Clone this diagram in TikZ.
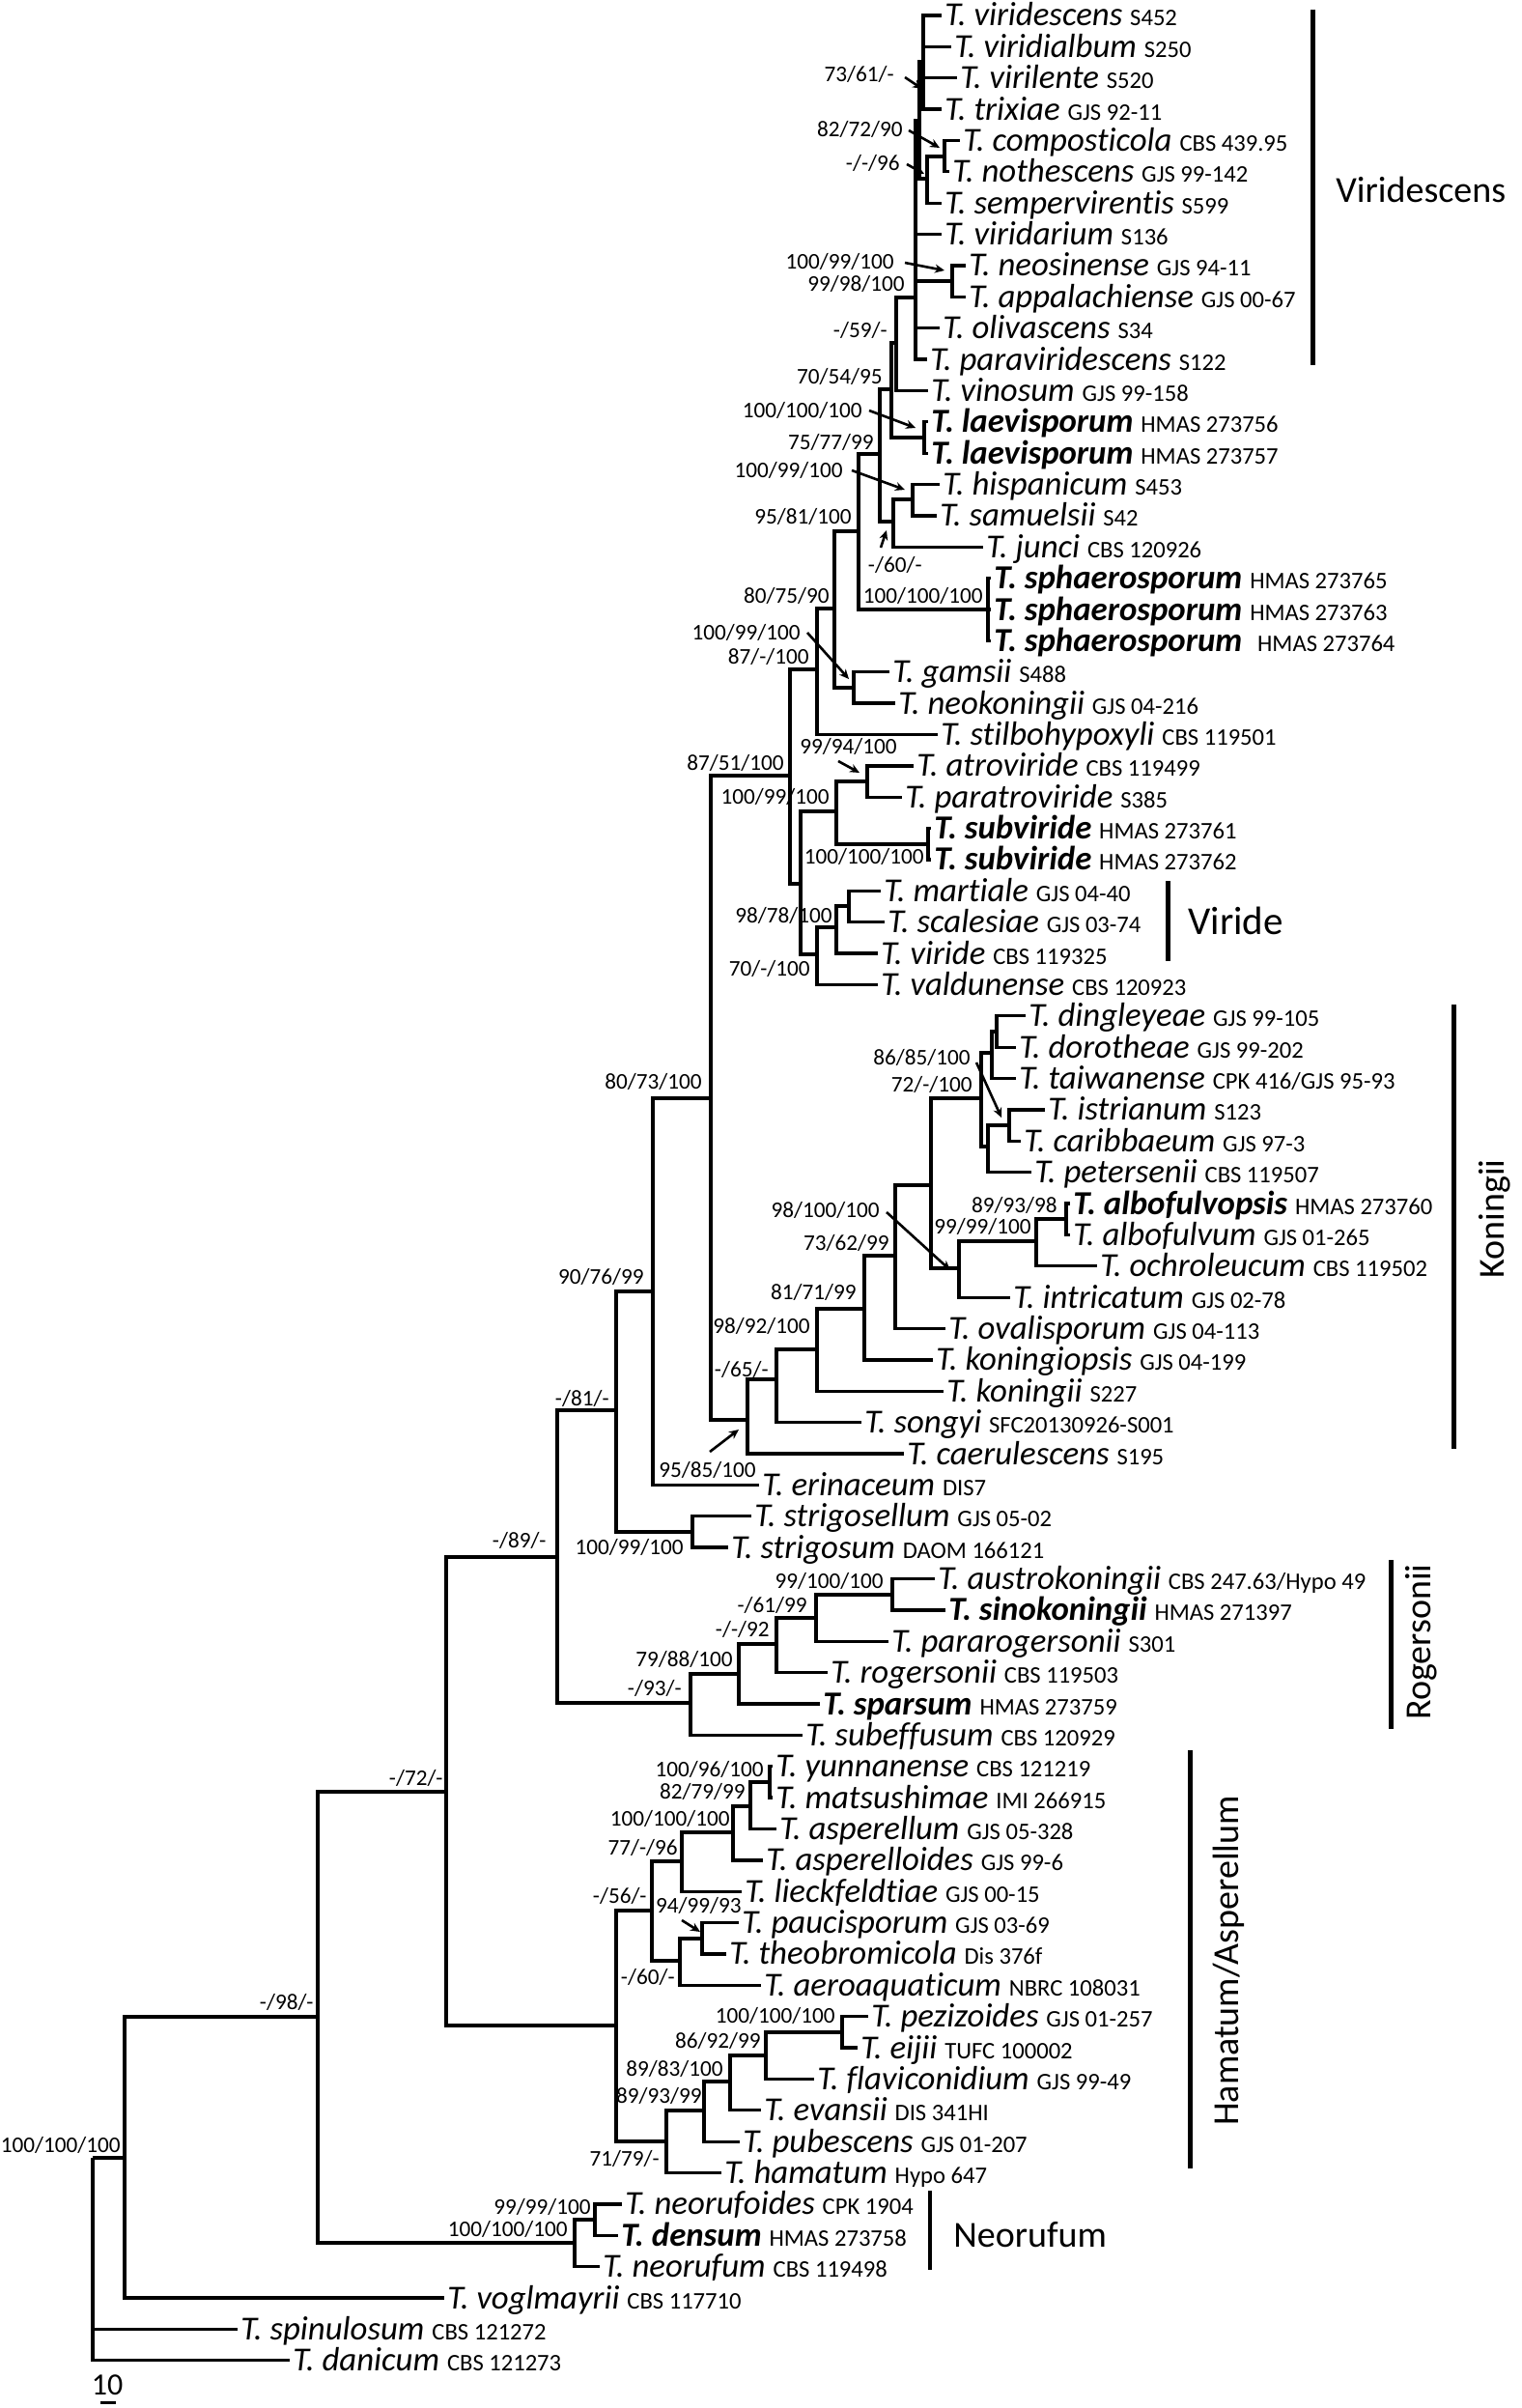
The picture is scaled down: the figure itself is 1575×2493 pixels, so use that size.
\documentclass[tikz,border=0pt]{standalone}
\usepackage{fontspec}
\setmainfont{Carlito}[Ligatures={TeX,NoCommon}]
\usetikzlibrary{arrows.meta}
\newcommand{\nm}[1]{{\itshape T.~#1}}
\newcommand{\bn}[1]{{\bfseries\itshape T.~#1}}
\newcommand{\sn}[1]{{\fontsize{12.3}{14}\selectfont #1}}
\newcommand{\leaf}[4]{%
  \coordinate (#1) at (#2,{16+(#3-1)*32.37});
  \node[leaflab] (#1t) at ({#2+3},{27+(#3-1)*32.37}) {#4};}
\newcommand{\bsv}[4]{\node[bslab] (#1) at (#2,{#3+7}) {#4};}
\newcommand{\ed}[2]{\foreach \cc in {#2} {\draw[br] (#1) |- (\cc);}}
\newcommand{\ar}[3]{\coordinate (#1s) at (#2); \coordinate (#1e) at (#3); \draw[arr] (#1s) -- (#1e);}
\begin{document}
\begin{tikzpicture}[x=0.5pt,y=-0.5pt,
  br/.style={line width=1.65pt},
  leaflab/.style={anchor=base west,inner sep=0pt,font=\fontsize{17.4}{19}\selectfont},
  bslab/.style={anchor=base east,inner sep=0pt,font=\fontsize{11.6}{13}\selectfont},
  arr/.style={line width=1.3pt,-{Stealth[length=5pt,width=4.5pt]}},
  cbar/.style={line width=2.5pt},
  clab/.style={inner sep=0pt,font=\fontsize{19}{22}\selectfont}]
\useasboundingbox (0,0) rectangle (1575,2493);
% leaves
\leaf{l1}{975}{1}{\nm{viridescens}\ \sn{S452}}
\leaf{l2}{985}{2}{\nm{viridialbum}\ \sn{S250}}
\leaf{l3}{991}{3}{\nm{virilente}\ \sn{S520}}
\leaf{l4}{975}{4}{\nm{trixiae}\ \sn{GJS 92-11}}
\leaf{l5}{994}{5}{\nm{composticola}\ \sn{CBS 439.95}}
\leaf{l6}{983}{6}{\nm{nothescens}\ \sn{GJS 99-142}}
\leaf{l7}{975}{7}{\nm{sempervirentis}\ \sn{S599}}
\leaf{l8}{975}{8}{\nm{viridarium}\ \sn{S136}}
\leaf{l9}{1000}{9}{\nm{neosinense}\ \sn{GJS 94-11}}
\leaf{l10}{1000}{10}{\nm{appalachiense}\ \sn{GJS 00-67}}
\leaf{l11}{973}{11}{\nm{olivascens}\ \sn{S34}}
\leaf{l12}{960}{12}{\nm{paraviridescens}\ \sn{S122}}
\leaf{l13}{961}{13}{\nm{vinosum}\ \sn{GJS 99-158}}
\leaf{l14}{961}{14}{\bn{laevisporum}\ \sn{HMAS 273756}}
\leaf{l15}{961}{15}{\bn{laevisporum}\ \sn{HMAS 273757}}
\leaf{l16}{973}{16}{\nm{hispanicum}\ \sn{S453}}
\leaf{l17}{970}{17}{\nm{samuelsii}\ \sn{S42}}
\leaf{l18}{1018}{18}{\nm{junci}\ \sn{CBS 120926}}
\leaf{l19}{1026}{19}{\bn{sphaerosporum}\ \sn{HMAS 273765}}
\leaf{l20}{1026}{20}{\bn{sphaerosporum}\ \sn{HMAS 273763}}
\leaf{l21}{1026}{21}{\bn{sphaerosporum}\ \ \sn{HMAS 273764}}
\leaf{l22}{921}{22}{\nm{gamsii}\ \sn{S488}}
\leaf{l23}{927}{23}{\nm{neokoningii}\ \sn{GJS 04-216}}
\leaf{l24}{971}{24}{\nm{stilbohypoxyli}\ \sn{CBS 119501}}
\leaf{l25}{946}{25}{\nm{atroviride}\ \sn{CBS 119499}}
\leaf{l26}{934}{26}{\nm{paratroviride}\ \sn{S385}}
\leaf{l27}{964}{27}{\bn{subviride}\ \sn{HMAS 273761}}
\leaf{l28}{964}{28}{\bn{subviride}\ \sn{HMAS 273762}}
\leaf{l29}{912}{29}{\nm{martiale}\ \sn{GJS 04-40}}
\leaf{l30}{916}{30}{\nm{scalesiae}\ \sn{GJS 03-74}}
\leaf{l31}{909}{31}{\nm{viride}\ \sn{CBS 119325}}
\leaf{l32}{909}{32}{\nm{valdunense}\ \sn{CBS 120923}}
\leaf{l33}{1062}{33}{\nm{dingleyeae}\ \sn{GJS 99-105}}
\leaf{l34}{1052}{34}{\nm{dorotheae}\ \sn{GJS 99-202}}
\leaf{l35}{1052}{35}{\nm{taiwanense}\ \sn{CPK 416/GJS 95-93}}
\leaf{l36}{1082}{36}{\nm{istrianum}\ \sn{S123}}
\leaf{l37}{1057}{37}{\nm{caribbaeum}\ \sn{GJS 97-3}}
\leaf{l38}{1068}{38}{\nm{petersenii}\ \sn{CBS 119507}}
\leaf{l39}{1108}{39}{\bn{albofulvopsis}\ \sn{HMAS 273760}}
\leaf{l40}{1108}{40}{\nm{albofulvum}\ \sn{GJS 01-265}}
\leaf{l41}{1136}{41}{\nm{ochroleucum}\ \sn{CBS 119502}}
\leaf{l42}{1046}{42}{\nm{intricatum}\ \sn{GJS 02-78}}
\leaf{l43}{979}{43}{\nm{ovalisporum}\ \sn{GJS 04-113}}
\leaf{l44}{966}{44}{\nm{koningiopsis}\ \sn{GJS 04-199}}
\leaf{l45}{977}{45}{\nm{koningii}\ \sn{S227}}
\leaf{l46}{892}{46}{\nm{songyi}\ \sn{SFC20130926-S001}}
\leaf{l47}{936}{47}{\nm{caerulescens}\ \sn{S195}}
\leaf{l48}{786}{48}{\nm{erinaceum}\ \sn{DIS7}}
\leaf{l49}{778}{49}{\nm{strigosellum}\ \sn{GJS 05-02}}
\leaf{l50}{754}{50}{\nm{strigosum}\ \sn{DAOM 166121}}
\leaf{l51}{968}{51}{\nm{austrokoningii}\ \sn{CBS 247.63/Hypo 49}}
\leaf{l52}{979}{52}{\bn{sinokoningii}\ \sn{HMAS 271397}}
\leaf{l53}{920}{53}{\nm{pararogersonii}\ \sn{S301}}
\leaf{l54}{857}{54}{\nm{rogersonii}\ \sn{CBS 119503}}
\leaf{l55}{849}{55}{\bn{sparsum}\ \sn{HMAS 273759}}
\leaf{l56}{831}{56}{\nm{subeffusum}\ \sn{CBS 120929}}
\leaf{l57}{800}{57}{\nm{yunnanense}\ \sn{CBS 121219}}
\leaf{l58}{800}{58}{\nm{matsushimae}\ \sn{IMI 266915}}
\leaf{l59}{804}{59}{\nm{asperellum}\ \sn{GJS 05-328}}
\leaf{l60}{790}{60}{\nm{asperelloides}\ \sn{GJS 99-6}}
\leaf{l61}{768}{61}{\nm{lieckfeldtiae}\ \sn{GJS 00-15}}
\leaf{l62}{765}{62}{\nm{paucisporum}\ \sn{GJS 03-69}}
\leaf{l63}{752}{63}{\nm{theobromicola}\ \sn{Dis 376f}}
\leaf{l64}{788}{64}{\nm{aeroaquaticum}\ \sn{NBRC 108031}}
\leaf{l65}{899}{65}{\nm{pezizoides}\ \sn{GJS 01-257}}
\leaf{l66}{888}{66}{\nm{eijii}\ \sn{TUFC 100002}}
\leaf{l67}{843}{67}{\nm{flaviconidium}\ \sn{GJS 99-49}}
\leaf{l68}{788}{68}{\nm{evansii}\ \sn{DIS 341HI}}
\leaf{l69}{766}{69}{\nm{pubescens}\ \sn{GJS 01-207}}
\leaf{l70}{747}{70}{\nm{hamatum}\ \sn{Hypo 647}}
\leaf{l71}{644}{71}{\nm{neorufoides}\ \sn{CPK 1904}}
\leaf{l72}{640}{72}{\bn{densum}\ \sn{HMAS 273758}}
\leaf{l73}{621}{73}{\nm{neorufum}\ \sn{CBS 119498}}
\leaf{l74}{460}{74}{\nm{voglmayrii}\ \sn{CBS 117710}}
\leaf{l75}{246}{75}{\nm{spinulosum}\ \sn{CBS 121272}}
\leaf{l76}{300}{76}{\nm{danicum}\ \sn{CBS 121273}}
% internal nodes
\coordinate (r) at (96,2234);
\coordinate (B) at (129,2234);
\coordinate (C) at (329,2088);
\coordinate (D) at (462,1855);
\coordinate (W) at (577,1612);
\coordinate (Z) at (638,1460);
\coordinate (S) at (717,1586);
\coordinate (Y) at (676,1337);
\coordinate (X) at (736,1137);
\coordinate (K14) at (774,1470);
\coordinate (K13) at (804,1428);
\coordinate (K12) at (846,1397);
\coordinate (K11) at (895,1355);
\coordinate (K10) at (927,1300);
\coordinate (K6) at (964,1227);
\coordinate (K5) at (1016,1137);
\coordinate (K2) at (1027,1090);
\coordinate (K1) at (1032,1068);
\coordinate (K4) at (1023,1187);
\coordinate (K3) at (1045,1165);
\coordinate (K7) at (993,1313);
\coordinate (K8) at (1073,1285);
\coordinate (K9) at (1104,1262);
\coordinate (M87b) at (818,803);
\coordinate (M87a) at (846,693);
\coordinate (M80) at (864,630);
\coordinate (G) at (884,712);
\coordinate (M95) at (889,550);
\coordinate (SPH) at (1023,631);
\coordinate (M75) at (911,470);
\coordinate (M60) at (925,540);
\coordinate (HS) at (945,517);
\coordinate (M70) at (923,403);
\coordinate (L) at (957,453);
\coordinate (M59) at (928,355);
\coordinate (NE) at (948,308);
\coordinate (NT) at (952,125);
\coordinate (NA) at (956,64);
\coordinate (NB) at (960,185);
\coordinate (NC) at (978,162);
\coordinate (NF) at (986,291);
\coordinate (M100b) at (829,915);
\coordinate (AS) at (866,840);
\coordinate (AT) at (898,809);
\coordinate (SV) at (961,874);
\coordinate (Q1) at (846,988);
\coordinate (Q2) at (866,960);
\coordinate (Q3) at (879,938);
\coordinate (R1) at (715,1763);
\coordinate (R2) at (765,1733);
\coordinate (R3) at (804,1702);
\coordinate (R4) at (845,1675);
\coordinate (R5) at (924,1651);
\coordinate (H6) at (638,2097);
\coordinate (H5) at (675,1978);
\coordinate (H4) at (706,1927);
\coordinate (H3) at (759,1897);
\coordinate (H2) at (777,1870);
\coordinate (H1) at (797,1845);
\coordinate (H8) at (704,2030);
\coordinate (H9) at (727,2007);
\coordinate (H7) at (690,2217);
\coordinate (H10) at (729,2185);
\coordinate (H11) at (756,2155);
\coordinate (H12) at (793,2128);
\coordinate (H13) at (872,2104);
\coordinate (N1) at (595,2322);
\coordinate (N2) at (616,2298);
% branches
\ed{r}{B,l75,l76}
\ed{B}{C,l74}
\ed{C}{D,N1}
\ed{D}{W,H6}
\ed{W}{Z,R1}
\ed{Z}{Y,S}
\ed{S}{l49,l50}
\ed{Y}{X,l48}
\ed{X}{M87b,K14}
\ed{K14}{K13,l47}
\ed{K13}{K12,l46}
\ed{K12}{K11,l45}
\ed{K11}{K10,l44}
\ed{K10}{K6,l43}
\ed{K6}{K5,K7}
\ed{K5}{K2,K4}
\ed{K2}{K1,l35}
\ed{K1}{l33,l34}
\ed{K4}{K3,l38}
\ed{K3}{l36,l37}
\ed{K7}{K8,l42}
\ed{K8}{K9,l41}
\ed{K9}{l39,l40}
\ed{M87b}{M87a,M100b}
\ed{M87a}{M80,l24}
\ed{M80}{M95,G}
\ed{G}{l22,l23}
\ed{M95}{M75,SPH}
\ed{SPH}{l19,l20,l21}
\ed{M75}{M70,M60}
\ed{M60}{HS,l18}
\ed{HS}{l16,l17}
\ed{M70}{M59,L}
\ed{L}{l14,l15}
\ed{M59}{NE,l13}
\ed{NE}{NT,l8,NF,l11,l12}
\ed{NT}{NA,NB}
\ed{NA}{l1,l2,l3,l4}
\ed{NB}{NC,l7}
\ed{NC}{l5,l6}
\ed{NF}{l9,l10}
\ed{M100b}{AS,Q1}
\ed{AS}{AT,SV}
\ed{AT}{l25,l26}
\ed{SV}{l27,l28}
\ed{Q1}{Q2,l32}
\ed{Q2}{Q3,l31}
\ed{Q3}{l29,l30}
\ed{R1}{R2,l56}
\ed{R2}{R3,l55}
\ed{R3}{R4,l54}
\ed{R4}{R5,l53}
\ed{R5}{l51,l52}
\ed{H6}{H5,H7}
\ed{H5}{H4,H8}
\ed{H4}{H3,l61}
\ed{H3}{H2,l60}
\ed{H2}{H1,l59}
\ed{H1}{l57,l58}
\ed{H8}{H9,l64}
\ed{H9}{l62,l63}
\ed{H7}{H10,l70}
\ed{H10}{H11,l69}
\ed{H11}{H12,l68}
\ed{H12}{H13,l67}
\ed{H13}{l65,l66}
\ed{N1}{N2,l73}
\ed{N2}{l71,l72}
% support values
\bsv{s1}{926}{78}{73/61/-}
\bsv{s2}{935}{135}{82/72/90}
\bsv{s3}{932}{170}{-/-/96}
\bsv{s4}{926}{272}{100/99/100}
\bsv{s5}{937}{295}{99/98/100}
\bsv{s6}{919}{343}{-/59/-}
\bsv{s7}{914}{390}{70/54/95}
\bsv{s8}{893}{425}{100/100/100}
\bsv{s9}{905}{458}{75/77/99}
\bsv{s10}{873}{487}{100/99/100}
\bsv{s11}{882}{535}{95/81/100}
\bsv{s12}{955}{585}{-/60/-}
\bsv{s13}{1018}{617}{100/100/100}
\bsv{s14}{859}{617}{80/75/90}
\bsv{s15}{829}{655}{100/99/100}
\bsv{s16}{838}{680}{87/-/100}
\bsv{s17}{929}{773}{99/94/100}
\bsv{s18}{812}{790}{87/51/100}
\bsv{s19}{859}{825}{100/99/100}
\bsv{s20}{957}{887}{100/100/100}
\bsv{s21}{862}{948}{98/78/100}
\bsv{s22}{839}{1003}{70/-/100}
\bsv{s23}{727}{1120}{80/73/100}
\bsv{s24}{1005}{1095}{86/85/100}
\bsv{s25}{1007}{1123}{72/-/100}
\bsv{s26}{1095}{1248}{89/93/98}
\bsv{s27}{911}{1253}{98/100/100}
\bsv{s28}{1068}{1270}{99/99/100}
\bsv{s29}{921}{1287}{73/62/99}
\bsv{s30}{887}{1338}{81/71/99}
\bsv{s31}{839}{1373}{98/92/100}
\bsv{s32}{796}{1418}{-/65/-}
\bsv{s33}{783}{1522}{95/85/100}
\bsv{s34}{667}{1322}{90/76/99}
\bsv{s35}{631}{1448}{-/81/-}
\bsv{s36}{708}{1602}{100/99/100}
\bsv{s37}{566}{1595}{-/89/-}
\bsv{s38}{915}{1637}{99/100/100}
\bsv{s39}{836}{1662}{-/61/99}
\bsv{s40}{797}{1687}{-/-/92}
\bsv{s41}{759}{1718}{79/88/100}
\bsv{s42}{706}{1748}{-/93/-}
\bsv{s43}{791}{1832}{100/96/100}
\bsv{s44}{772}{1855}{82/79/99}
\bsv{s45}{756}{1883}{100/100/100}
\bsv{s46}{702}{1913}{77/-/96}
\bsv{s47}{670}{1963}{-/56/-}
\bsv{s48}{768}{1973}{94/99/93}
\bsv{s49}{699}{2047}{-/60/-}
\bsv{s50}{865}{2087}{100/100/100}
\bsv{s51}{788}{2113}{86/92/99}
\bsv{s52}{749}{2142}{89/83/100}
\bsv{s53}{727}{2170}{89/93/99}
\bsv{s54}{683}{2235}{71/79/-}
\bsv{s55}{612}{2285}{99/99/100}
\bsv{s56}{588}{2308}{100/100/100}
\bsv{s57}{459}{1841}{-/72/-}
\bsv{s58}{325}{2073}{-/98/-}
\bsv{s59}{125}{2221}{100/100/100}
% arrows
\ar{a1}{937,80}{955,92}
\ar{a2}{941,135}{973,153}
\ar{a3}{939,170}{957,180}
\ar{a4}{937,272}{978,280}
\ar{a5}{900,425}{948,443}
\ar{a6}{882,487}{937,507}
\ar{a7}{912,567}{918,549}
\ar{a8}{836,655}{879,703}
\ar{a9}{868,788}{890,800}
\ar{a10}{1011,1100}{1037,1157}
\ar{a11}{918,1255}{984,1315}
\ar{a12}{735,1503}{765,1480}
\ar{a13}{706,1988}{725,2000}
% clade bars
\coordinate (vb1) at (1359,10); \coordinate (vb2) at (1359,378);
\draw[cbar] (vb1) -- (vb2);
\node[clab,anchor=base west] (vt) at (1383,210) {Viridescens};
\coordinate (db1) at (1209,912); \coordinate (db2) at (1209,995);
\draw[cbar] (db1) -- (db2);
\node[clab,anchor=base west,font=\fontsize{20.5}{23}\selectfont] (dt) at (1230,967) {Viride};
\coordinate (kb1) at (1505,1040); \coordinate (kb2) at (1505,1500);
\draw[cbar] (kb1) -- (kb2);
\node[clab,rotate=90] (kt) at (1548,1262) {Koningii};
\coordinate (rb1) at (1440,1615); \coordinate (rb2) at (1440,1790);
\draw[cbar] (rb1) -- (rb2);
\node[clab,rotate=90] (rt) at (1472,1700) {Rogersonii};
\coordinate (hb1) at (1232,1812); \coordinate (hb2) at (1232,2245);
\draw[cbar] (hb1) -- (hb2);
\node[clab,rotate=90] (ht) at (1272,2030) {Hamatum/Asperellum};
\coordinate (nb1) at (963,2268); \coordinate (nb2) at (963,2350);
\draw[line width=1.6pt] (nb1) -- (nb2);
\node[clab,anchor=base west] (nt) at (987,2326) {Neorufum};
% scale bar
\coordinate (sb1) at (104,2487); \coordinate (sb2) at (120,2487);
\draw[line width=1.5pt] (sb1) -- (sb2);
\node[anchor=base,inner sep=0pt,font=\fontsize{16}{18}\selectfont] (sbt) at (111,2479) {10};
\end{tikzpicture}
\end{document}
